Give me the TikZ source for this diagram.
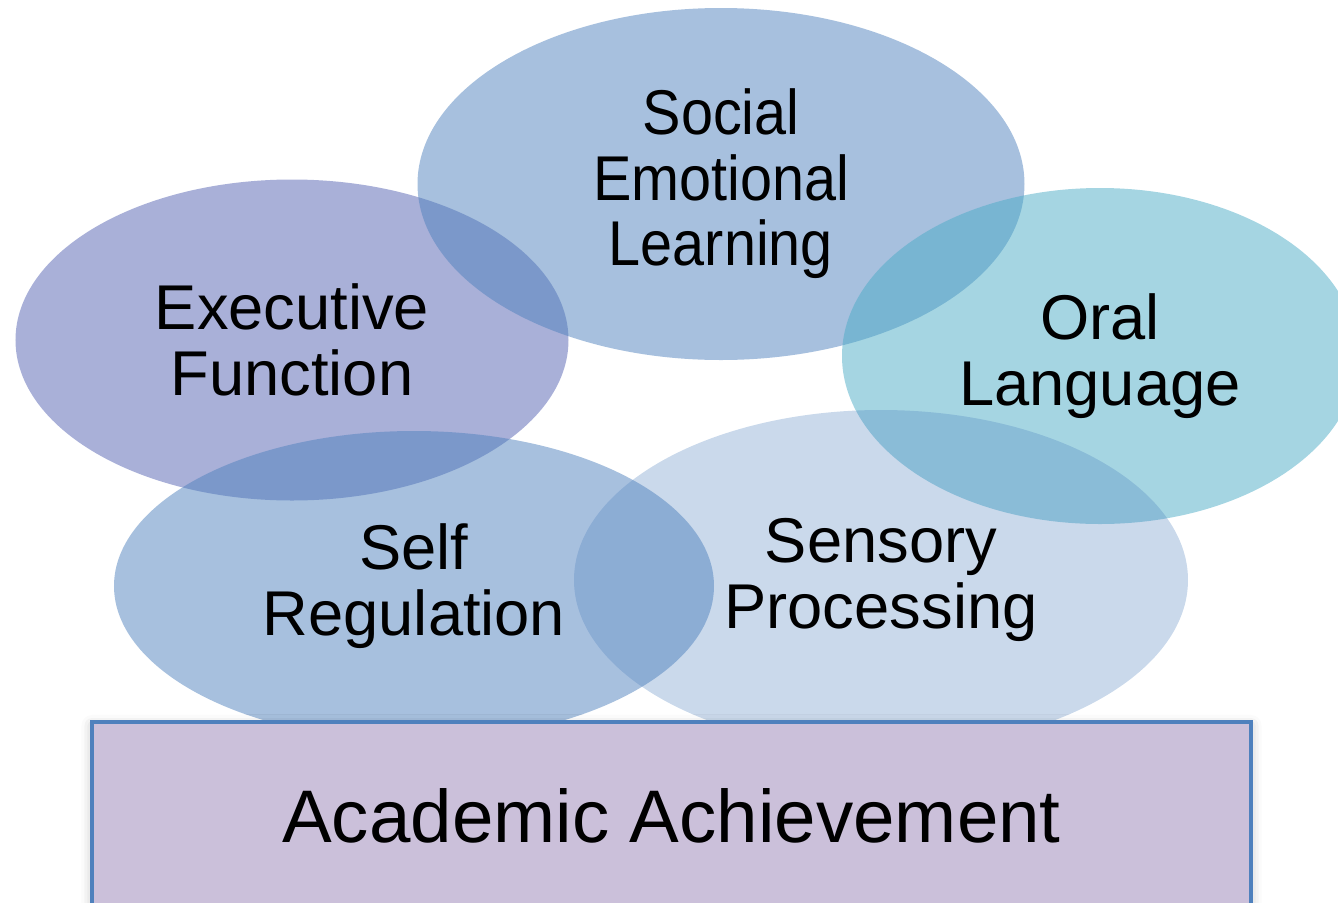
\documentclass[tikz,border=0pt]{standalone}
\usepackage{fontspec}
\setmainfont{Liberation Sans}
\usepackage{tikz}
\usetikzlibrary{shapes.geometric,shadows.blur}

\definecolor{accBlue}{RGB}{79,129,189}
\definecolor{accIndigo}{RGB}{83,97,177}
\definecolor{accAqua}{RGB}{75,172,198}
\definecolor{boxLilac}{RGB}{203,192,218}

\begin{document}
\begin{tikzpicture}[
    skill/.style={ellipse, inner sep=0pt, outer sep=0pt, draw=none, fill opacity=0.5, text opacity=1, align=center, font=\fontsize{18}{18.6}\selectfont},
    squeezed/.style={font=\fontsize{18}{18.6}\selectfont\addfontfeature{FakeStretch=0.91}},
    base/.style={rectangle, draw=accBlue, line width=1pt, fill=boxLilac, inner sep=0pt, outer sep=0pt, font=\fontsize{21.2}{24}\selectfont, blur shadow={shadow xshift=0pt, shadow yshift=-1pt, shadow blur radius=3pt, shadow opacity=25}}
]

% page frame
\useasboundingbox (0,0) rectangle (13.38,-9.03);
\clip (0,0) rectangle (13.38,-9.03);

% Skill areas - overlapping ellipses
\node[skill, fill=accIndigo, minimum width=5.53cm, minimum height=3.21cm] (exec) at (2.92,-3.40) {Executive\\Function};
\node[skill, squeezed, fill=accBlue, minimum width=6.07cm, minimum height=3.52cm] (sel) at (7.21,-1.84) {Social\\Emotional\\Learning};
\node[skill, fill=accAqua, minimum width=5.16cm, minimum height=3.36cm] (oral) at (11.00,-3.56) {Oral\\Language};
\node[skill, fill=accBlue, minimum width=6.00cm, minimum height=3.10cm] (selfreg) at (4.14,-5.86) {Self\\Regulation};
\node[skill, fill=accBlue, fill opacity=0.3, minimum width=6.14cm, minimum height=3.40cm] (sensory) at (8.81,-5.80) {Sensory\\Processing};

% Foundation box
\node[base, minimum width=11.59cm, minimum height=1.88cm] (academic) at (6.715,-8.16) {Academic Achievement};

\end{tikzpicture}
\end{document}
